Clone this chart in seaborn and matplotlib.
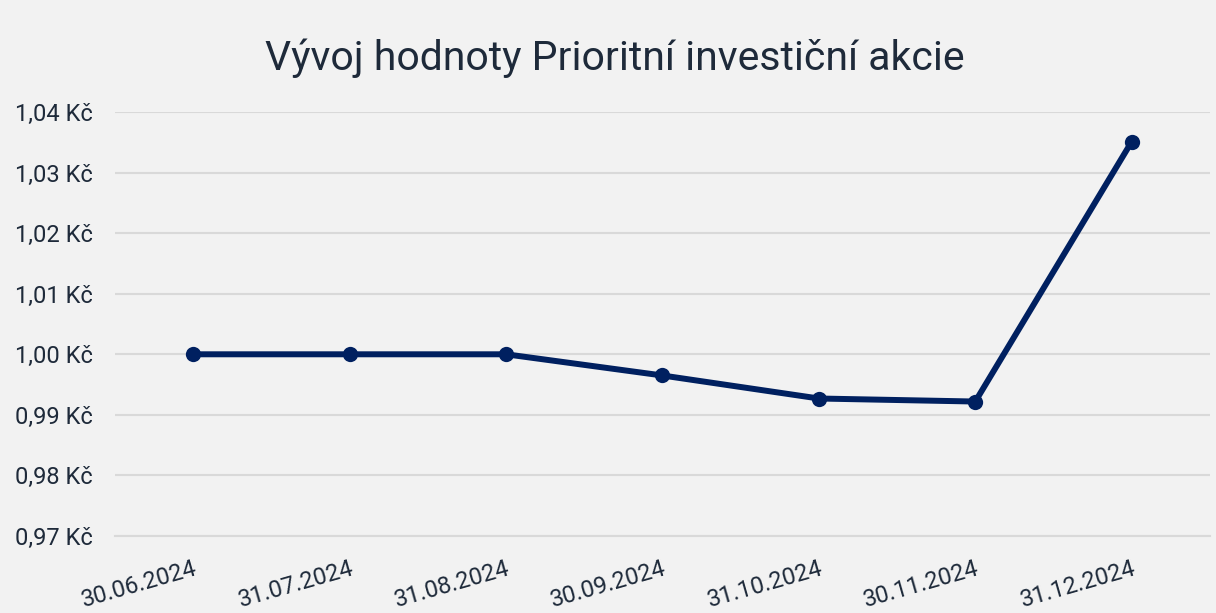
import numpy as np
import pandas as pd
import seaborn as sns
import matplotlib.pyplot as plt

# values
dates = ["30.06.2024", "31.07.2024", "31.08.2024", "30.09.2024",
         "31.10.2024", "30.11.2024", "31.12.2024"]
values = [1.0000, 1.0000, 1.0000, 0.9965, 0.9927, 0.9922, 1.0351]
y_ticks = [0.97, 0.98, 0.99, 1.00, 1.01, 1.02, 1.03, 1.04]

df = pd.DataFrame({"pos": np.arange(len(dates)), "value": values})

bg = "#f2f2f2"
grid_c = "#d9d9d9"
text_c = "#1e2a3a"
line_c = "#002060"

sns.set_theme(style="white")
plt.rcParams["font.family"] = ["Roboto", "DejaVu Sans"]

fig = plt.figure(figsize=(12.16, 6.13), dpi=100, facecolor=bg)
ax = fig.add_axes([0.0946, 0.1256, 0.9004, 0.6917])
ax.set_facecolor(bg)

sns.lineplot(data=df, x="pos", y="value", ax=ax, color=line_c, linewidth=4.3,
             marker="o", markersize=11, markeredgewidth=0, zorder=3)

ax.set_ylim(0.97, 1.04)
ax.set_yticks(y_ticks)
ax.set_yticklabels([f"{v:.2f}".replace(".", ",") + " Kč" for v in y_ticks],
                   fontsize=17, color=text_c)
ax.tick_params(axis="y", length=0, pad=16)
ax.yaxis.grid(True, color=grid_c, linewidth=1.5)
ax.set_axisbelow(True)

# category axis: boundary ticks, labels at category centres
n = len(dates)
ax.set_xlim(-0.5, n - 0.5)
ax.set_xticks(np.arange(-0.5, n, 1.0))
ax.set_xticklabels([])
ax.tick_params(axis="x", which="major", length=5, width=1.5, color=grid_c)
ax.set_xticks(np.arange(n), minor=True)
ax.set_xticklabels(dates, minor=True, rotation=16, ha="right",
                   rotation_mode="anchor", fontsize=17, color=text_c)
ax.tick_params(axis="x", which="minor", length=0, pad=15)

for s in ["left", "right", "top"]:
    ax.spines[s].set_visible(False)
ax.spines["bottom"].set_color(grid_c)
ax.spines["bottom"].set_linewidth(1.5)
ax.set_xlabel("")
ax.set_ylabel("")

fig.text(0.506, 0.905, "Vývoj hodnoty Prioritní investiční akcie",
         ha="center", va="center", fontsize=29.5, color=text_c)

fig.savefig("out.png", dpi=100, facecolor=bg)
